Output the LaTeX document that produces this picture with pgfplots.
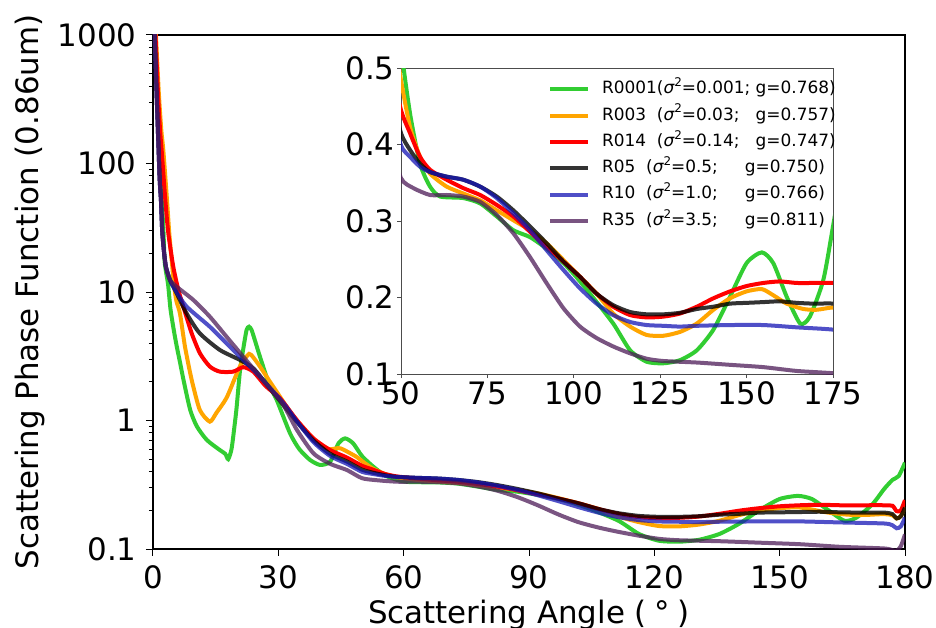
\documentclass[border=0pt]{standalone}
\usepackage{fontspec}
\setmainfont{DejaVu Sans}
\usepackage{pgfplots}
\usepackage{pgfplotstable}
\pgfplotsset{compat=1.18}
\usetikzlibrary{calc}

\definecolor{cG}{RGB}{50,205,50}
\definecolor{cO}{RGB}{255,165,0}
\definecolor{cR}{RGB}{255,0,0}
\definecolor{cK}{RGB}{0,0,0}
\definecolor{cB}{RGB}{21,21,181}
\definecolor{cP}{RGB}{77,28,88}

\pgfplotstableread{
x y
0 3000
0.5 1000
1.0 350
1.5 150
2.0 60
2.5 30
2.8 17
3.6 11.5
4.2 7.3
5.0 5.0
5.7 3.75
6.5 2.8
7.3 2.07
8.9 1.21
10.5 0.9
12.9 0.705
16.0 0.589
17.3 0.55
18.0 0.50
18.8 0.60
19.5 0.9
20.0 1.25
20.8 2.4
21.6 3.6
22.4 5.06
23.0 5.37
23.6 5.06
24.4 4.2
25.6 3.14
28.0 1.83
29.6 1.45
32.8 0.795
35.0 0.6
37.6 0.493
40.0 0.451
42.4 0.478
44.4 0.665
46.0 0.726
47.9 0.665
50.0 0.53
52.6 0.441
55.5 0.375
58.4 0.345
61.3 0.332
68.0 0.330
72.9 0.323
77.7 0.306
82.5 0.288
87.3 0.279
92.1 0.264
97.0 0.245
100.5 0.228
104.7 0.205
111.4 0.166
116.3 0.131
121.1 0.116
125.9 0.114
130.7 0.118
135.6 0.131
140.4 0.158
145.2 0.201
150.0 0.245
154.4 0.259
157.7 0.245
161.6 0.201
165.5 0.166
168.3 0.175
172.2 0.223
175.0 0.293
177.0 0.345
178.5 0.37
180.0 0.47
}\dG

\pgfplotstableread{
x y
0 3000
0.7 1000
1.4 350
2.0 180
2.47 127
3.35 52
3.9 28.6
4.6 16
5.0 11.5
5.6 8.5
6.46 6.8
7.66 3.75
9.26 2.07
11.2 1.21
13.6 0.98
15.2 1.15
17.6 1.5
20.0 2.3
21.2 2.79
23.0 3.3
24.0 3.1
25.6 2.63
28.8 1.83
32.0 1.28
35.0 0.95
38.4 0.72
42.0 0.6
44.8 0.608
48.7 0.522
50.0 0.484
52.6 0.423
55.5 0.384
58.4 0.362
63.2 0.345
68.0 0.336
72.9 0.327
77.7 0.314
82.5 0.301
87.3 0.288
92.1 0.271
97.0 0.249
101.8 0.227
106.6 0.205
111.4 0.179
116.3 0.162
121.1 0.151
125.9 0.150
130.7 0.155
135.6 0.166
140.4 0.184
145.2 0.199
150.0 0.208
154.4 0.211
157.7 0.203
161.6 0.192
166.4 0.185
170.3 0.184
175.0 0.187
177.0 0.183
178.0 0.173
179.0 0.18
180.0 0.213
}\dO

\pgfplotstableread{
x y
0 3000
0.6 1000
1.2 350
1.7 180
2.07 127
2.95 52
3.67 28.6
4.86 15.7
6.06 10.4
7.26 7.7
9.26 4.77
11.25 3.33
13.6 2.63
16.0 2.40
19.2 2.40
21.6 2.6
24.0 2.40
27.0 1.85
30.4 1.49
34.4 1.01
38.4 0.726
42.4 0.589
46.4 0.515
50.0 0.445
52.6 0.415
55.5 0.384
58.4 0.367
63.2 0.354
68.0 0.343
72.9 0.334
77.7 0.321
82.5 0.306
87.3 0.286
92.1 0.266
97.0 0.247
101.8 0.227
106.6 0.205
111.4 0.188
116.3 0.177
121.1 0.174
125.9 0.175
130.7 0.179
135.6 0.188
140.4 0.199
145.2 0.208
150.0 0.215
154.8 0.219
159.6 0.221
164.5 0.219
169.3 0.219
175.0 0.219
177.0 0.217
178.0 0.197
179.0 0.2
180.0 0.24
}\dR

\pgfplotstableread{
x y
0 3000
0.4 1000
0.8 400
1.2 170
1.6 75
1.9 52
2.2 30
2.6 21
3.1 15.7
4.07 12.4
5.27 10.4
8.06 6.8
11.2 4.77
16.0 3.54
20.8 2.96
24.0 2.55
27.0 1.95
31.2 1.32
34.4 0.98
38.4 0.70
42.4 0.55
46.4 0.48
50.0 0.415
52.6 0.393
55.5 0.375
58.4 0.364
63.2 0.358
68.0 0.354
72.9 0.345
77.7 0.332
82.5 0.314
87.3 0.293
92.1 0.271
97.0 0.247
101.8 0.227
106.6 0.205
111.4 0.190
116.3 0.181
121.1 0.178
125.9 0.178
130.7 0.180
135.6 0.185
140.4 0.188
145.2 0.192
150.0 0.193
154.8 0.194
159.6 0.195
164.5 0.193
169.3 0.192
175.0 0.192
177.0 0.187
178.0 0.173
179.0 0.18
180.0 0.21
}\dK

\pgfplotstableread{
x y
0 3000
0.4 1000
0.8 400
1.2 170
1.6 75
1.9 52
2.2 30
2.6 21
3.1 15.7
4.07 12.4
5.27 10.4
8.06 7.7
13.6 5.37
17.6 3.99
21.6 2.96
25.6 2.19
31.2 1.37
34.4 0.99
38.4 0.68
42.4 0.53
46.4 0.46
50.0 0.399
52.6 0.384
55.5 0.371
58.4 0.364
63.2 0.358
68.0 0.354
72.9 0.345
77.7 0.330
82.5 0.310
87.3 0.288
92.1 0.262
97.0 0.236
101.8 0.212
106.6 0.192
111.4 0.177
116.3 0.168
121.1 0.164
125.9 0.163
130.7 0.162
135.6 0.163
145.2 0.164
154.8 0.164
164.5 0.161
175.0 0.158
177.0 0.153
178.0 0.145
179.0 0.15
180.0 0.176
}\dB

\pgfplotstableread{
x y
0 3000
0.4 1000
0.8 400
1.2 170
1.6 75
1.9 52
2.2 30
2.6 21
3.1 15.7
4.07 12.4
5.66 11.0
9.65 8.67
13.6 6.43
17.6 4.49
21.6 3.14
25.6 2.19
31.0 1.35
34.4 0.85
38.4 0.556
42.4 0.46
46.4 0.412
50.0 0.356
53.6 0.343
58.4 0.334
63.2 0.334
68.0 0.332
72.9 0.325
77.7 0.308
82.5 0.284
87.3 0.253
92.1 0.219
97.0 0.186
101.8 0.162
106.6 0.147
111.4 0.136
116.3 0.127
121.1 0.120
125.9 0.117
135.6 0.115
145.2 0.112
154.8 0.109
164.5 0.104
175.0 0.101
177.0 0.098
178.0 0.097
179.0 0.105
180.0 0.13
}\dP

\newcommand{\sig}{{\itshape σ}\raisebox{0.42em}{\fontsize{12}{12}\selectfont 2}}

\pgfplotsset{
  sG/.style={cG, line width=4bp, smooth, tension=0.4},
  sO/.style={cO, line width=4bp, smooth, tension=0.4},
  sR/.style={cR, line width=4bp, smooth, tension=0.4},
  sK/.style={cK, draw opacity=0.8, line width=4bp, smooth, tension=0.4},
  sB/.style={cB, draw opacity=0.75, line width=4bp, smooth, tension=0.4},
  sP/.style={cP, draw opacity=0.75, line width=4bp, smooth, tension=0.4},
}

\begin{document}
\begin{tikzpicture}
\begin{axis}[
  name=main, scale only axis, width=752bp, height=514bp,
  xmin=0, xmax=180, ymin=0.1, ymax=1000, ymode=log,
  xtick={0,30,60,90,120,150,180},
  xticklabels={0,30,60,90,120,150,180},
  ytick={0.1,1,10,100,1000}, yticklabels={0.1,1,10,100,1000},
  tick pos=left, tick align=outside,
  major tick length=7bp, minor tick length=4bp,
  every tick/.style={black, line width=1bp},
  axis line style={line width=1.5bp},
  ticklabel style={font=\fontsize{31}{31}\selectfont},
  label style={font=\fontsize{31}{31}\selectfont},
  xticklabel style={yshift=-6bp},
  yticklabel style={xshift=-6bp},
  xlabel={Scattering Angle (\hspace{0.25em}°\hspace{0.25em})},
  ylabel={Scattering Phase Function (0.86um)},
  xlabel style={at={(axis description cs:0.5,-0.144)}, anchor=base},
  ylabel style={at={(axis description cs:-0.1529,0.5)}, anchor=base},
]
\addplot[sG] table {\dG};
\addplot[sO] table {\dO};
\addplot[sR] table {\dR};
\addplot[sK] table {\dK};
\addplot[sB] table {\dB};
\addplot[sP] table {\dP};
\end{axis}

\begin{axis}[
  at={(248bp,175bp)}, anchor=south west,
  scale only axis, width=432bp, height=306bp,
  xmin=50, xmax=175, ymin=0.1, ymax=0.5,
  xtick={50,75,100,125,150,175},
  xticklabels={50,75,100,125,150,175},
  ytick={0.1,0.2,0.3,0.4,0.5}, yticklabels={0.1,0.2,0.3,0.4,0.5},
  tick pos=left, tick align=outside,
  major tick length=4bp,
  every tick/.style={black!70, line width=0.8bp},
  axis line style={line width=0.8bp, black!70},
  axis background/.style={fill=white},
  ticklabel style={font=\fontsize{31}{31}\selectfont},
  yticklabel style={xshift=1bp},
  restrict x to domain=44:180,
  legend image code/.code={\draw[#1] (0bp,0bp) -- (38bp,0bp);},
  legend cell align=left,
  legend style={at={(0.340,0.964)}, anchor=north west, draw=none, fill=none,
    inner sep=0pt, row sep=5.8bp, column sep=10bp,
    font=\fontsize{17}{20}\selectfont,
    nodes={inner sep=2bp, text height=12.5bp, text depth=4bp}},
]
\addplot[sG] table {\dG};
\addlegendentry{R0001(\sig=0.001;\hspace{0.318em}g=0.768)}
\addplot[sO] table {\dO};
\addlegendentry{R003\hspace{0.636em}(\sig=0.03;\hspace{0.954em}g=0.757)}
\addplot[sR] table {\dR};
\addlegendentry{R014\hspace{0.636em}(\sig=0.14;\hspace{0.954em}g=0.747)}
\addplot[sK] table {\dK};
\addlegendentry{R05\hspace{0.636em}(\sig=0.5;\hspace{1.59em}g=0.750)}
\addplot[sB] table {\dB};
\addlegendentry{R10\hspace{0.636em}(\sig=1.0;\hspace{1.59em}g=0.766)}
\addplot[sP] table {\dP};
\addlegendentry{R35\hspace{0.636em}(\sig=3.5;\hspace{1.59em}g=0.811)}
\end{axis}

\pgfresetboundingbox
\path[use as bounding box] ($(main.south west)+(-153bp,-78bp)$) rectangle ($(main.north east)+(31bp,35bp)$);
\end{tikzpicture}
\end{document}
